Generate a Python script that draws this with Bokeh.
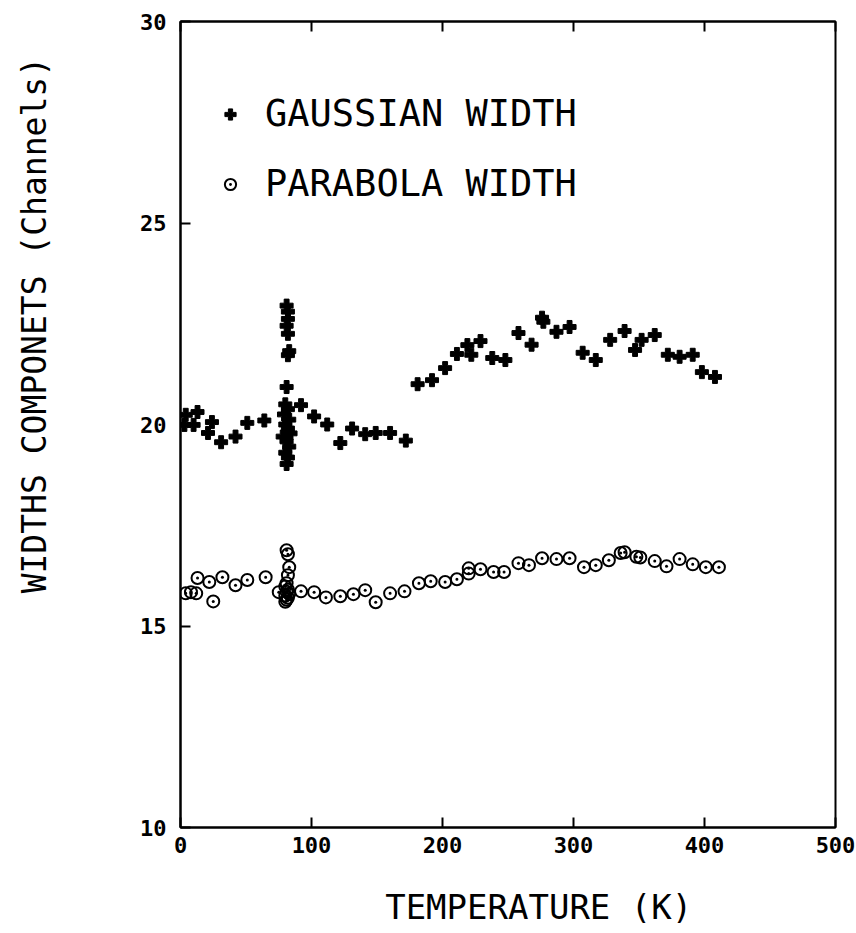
from bokeh.plotting import figure
from bokeh.models import (LinearAxis, FixedTicker, Legend, LegendItem, Range1d,
                          CustomJSTickFormatter)
from bokeh.embed import file_html
from bokeh.resources import INLINE

FONT = "DejaVu Sans Mono"
NBSP = "\u00a0"

# Gaussian width component (channels) vs temperature (K)
gauss_T = [3, 4, 10, 13, 21, 24, 31, 42, 51, 64,
           81, 82, 82, 81, 82, 83, 82, 81, 80, 82, 79, 83, 80, 82, 84, 78, 81, 83, 80, 82, 81,
           92, 102, 112, 122, 131, 141, 149, 160, 172,
           181, 192, 202, 211, 219, 222, 229, 238, 248, 258, 268, 276, 277, 287, 297,
           307, 317, 328, 339, 347, 352, 362, 372, 381, 391, 398, 408]
gauss_W = [19.99, 20.24, 19.99, 20.31, 19.79, 20.06, 19.56, 19.70, 20.04, 20.10,
           22.95, 22.80, 22.62, 22.45, 22.25, 21.82, 21.72, 20.93, 20.50, 20.38, 20.25,
           20.12, 20.00, 19.90, 19.78, 19.70, 19.58, 19.45, 19.30, 19.18, 19.02,
           20.48, 20.20, 20.00, 19.54, 19.90, 19.76, 19.79, 19.79, 19.60,
           21.00, 21.10, 21.40, 21.75, 21.97, 21.73, 22.07, 21.65, 21.60, 22.27, 21.98,
           22.65, 22.55, 22.30, 22.42, 21.78, 21.60, 22.10, 22.32, 21.85, 22.10, 22.22,
           21.73, 21.68, 21.73, 21.30, 21.18]

# Parabola width component (channels) vs temperature (K)
para_T = [4, 8, 12, 13, 22, 25, 32, 42, 51, 65, 75,
          81, 82, 83, 82, 81, 80, 82, 81, 83, 80, 82, 81, 80,
          92, 102, 111, 122, 132, 141, 149, 160, 171, 182, 191, 202, 211, 220, 220,
          229, 239, 247, 258, 266, 276, 287, 297, 308, 317, 327, 336, 339, 348, 351,
          362, 371, 381, 391, 401, 411]
para_W = [15.81, 15.84, 15.81, 16.19, 16.09, 15.61, 16.21, 16.01, 16.14, 16.21, 15.84,
          16.88, 16.78, 16.46, 16.26, 16.06, 15.98, 15.90, 15.85, 15.80, 15.75, 15.70,
          15.65, 15.60,
          15.86, 15.84, 15.71, 15.74, 15.79, 15.89, 15.59, 15.81, 15.86, 16.06, 16.11,
          16.09, 16.16, 16.43, 16.30, 16.41, 16.34, 16.34, 16.56, 16.51, 16.68, 16.66,
          16.68, 16.46, 16.51, 16.63, 16.81, 16.83, 16.72, 16.70, 16.61, 16.48, 16.66,
          16.53, 16.46, 16.46]

x_ticks = [0, 100, 200, 300, 400, 500]
y_ticks = [10, 15, 20, 25, 30]

x_title = "TEMPERATURE (K)"
y_title = "WIDTHS COMPONETS (Channels)"

p = figure(width=856, height=933, output_backend="svg", toolbar_location=None,
           x_range=Range1d(0, 500), y_range=Range1d(10, 30),
           min_border_left=180, min_border_right=21, min_border_top=21,
           min_border_bottom=106)
p.background_fill_color = "white"
p.border_fill_color = "white"
p.outline_line_color = "black"
p.outline_line_width = 2
p.xgrid.visible = False
p.ygrid.visible = False

r1 = p.scatter(gauss_T, gauss_W, marker="plus", size=13,
               fill_color="black", line_color="black", line_width=1)
r2 = p.scatter(para_T, para_W, marker="circle_dot", size=12,
               fill_alpha=0, line_color="black", line_width=2)


def style_ticks(ax, standoff):
    ax.major_tick_in = 10
    ax.major_tick_out = 0
    ax.minor_tick_in = 0
    ax.minor_tick_out = 0
    ax.axis_line_width = 2
    ax.major_tick_line_width = 2
    ax.major_label_text_font = FONT
    ax.major_label_text_font_size = "22px"
    ax.major_label_text_font_style = "bold"
    ax.major_label_text_color = "black"
    ax.major_label_standoff = standoff


for ax in p.xaxis:
    ax.ticker = FixedTicker(ticks=x_ticks)
    style_ticks(ax, 9)
for ax in p.yaxis:
    ax.ticker = FixedTicker(ticks=y_ticks)
    style_ticks(ax, 14)

top = LinearAxis(ticker=FixedTicker(ticks=x_ticks),
                 formatter=CustomJSTickFormatter(code="return ''"))
style_ticks(top, 0)
p.add_layout(top, "above")


def title_axis(text, standoff):
    ax = LinearAxis(ticker=FixedTicker(ticks=[]),
                    axis_label=text, axis_label_standoff=standoff)
    ax.axis_line_alpha = 0
    ax.major_tick_in = 0
    ax.major_tick_out = 0
    ax.minor_tick_in = 0
    ax.minor_tick_out = 0
    ax.major_label_standoff = 0
    ax.axis_label_text_font = FONT
    ax.axis_label_text_font_style = "normal"
    ax.axis_label_text_color = "black"
    return ax


# leading no-break spaces shift the centred titles to where the original has them
xt = title_axis(NBSP * 3 + x_title, 31)
xt.axis_label_text_font_size = "34px"
p.add_layout(xt, "below")

yt = title_axis(NBSP * 10 + y_title, 84)
yt.axis_label_text_font_size = "33px"
p.add_layout(yt, "left")

items = [LegendItem(label="GAUSSIAN WIDTH", renderers=[r1]),
         LegendItem(label="PARABOLA WIDTH", renderers=[r2])]
legend = Legend(items=items, location=(36, 622),
                label_text_font=FONT, label_text_font_size="37px",
                label_text_color="black",
                glyph_width=28, glyph_height=28, label_standoff=21,
                spacing=27, padding=0, margin=0,
                border_line_alpha=0, background_fill_alpha=0)
p.add_layout(legend)

open("out.html", "w").write(file_html(p, INLINE))
